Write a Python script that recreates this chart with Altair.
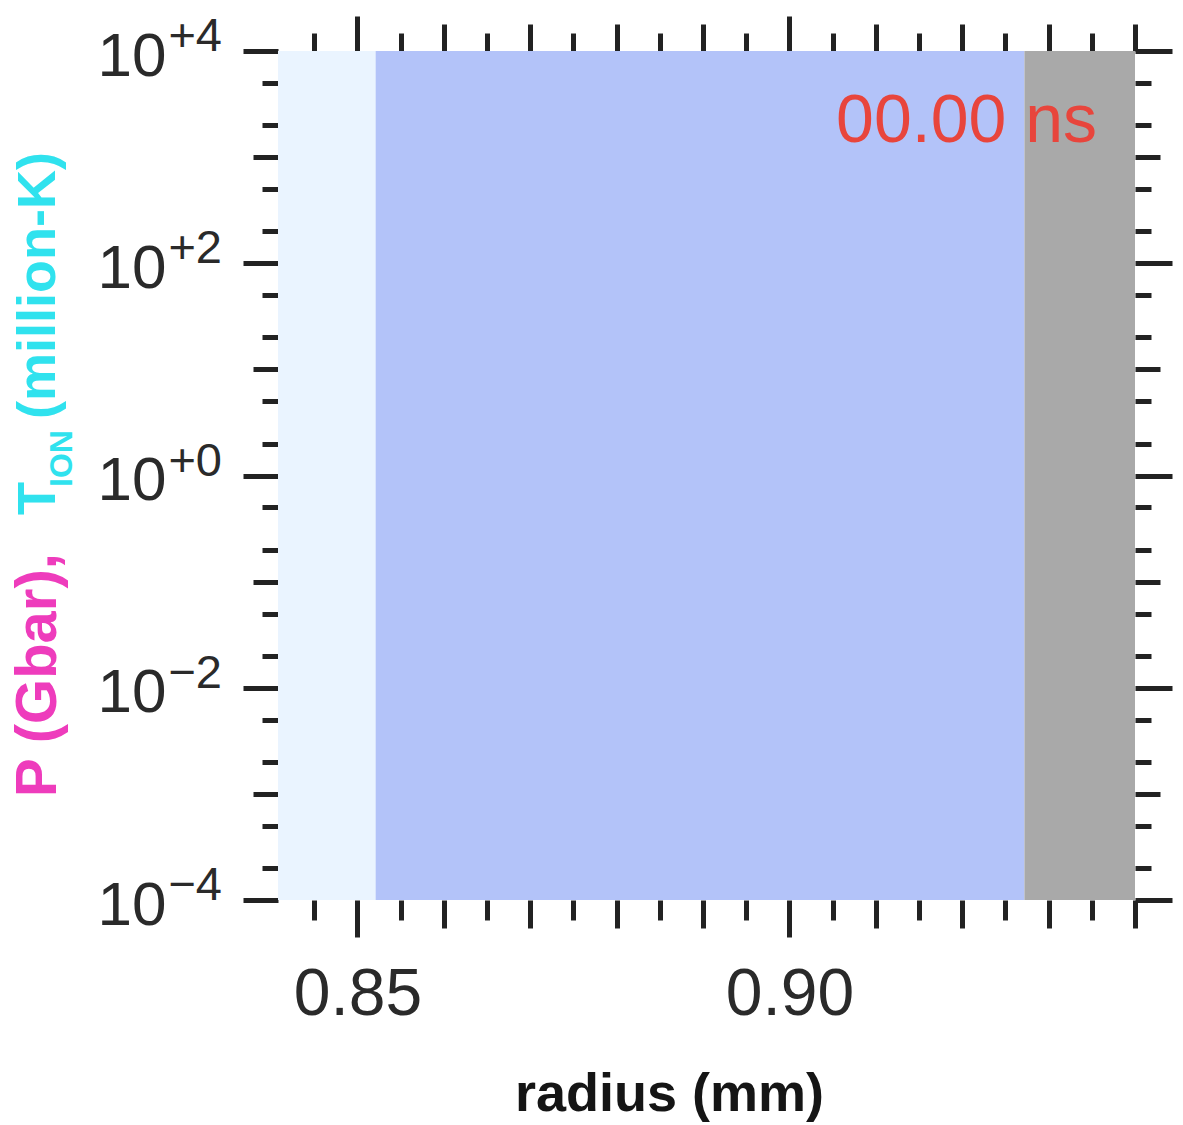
import altair as alt
import pandas as pd

# ---------------- data ----------------
region_names = ["inner", "shell", "outer"]
region_start = [0.8408, 0.8521, 0.9272]
region_end = [0.8521, 0.9272, 0.9400]
region_colors = ["#eaf4ff", "#b3c3f9", "#a9a9a9"]

x_domain = [0.8408, 0.9400]
y_domain = [1e-4, 1e4]

x_major = [0.85, 0.90]
x_medium = [0.86, 0.87, 0.88, 0.89, 0.91, 0.92, 0.93, 0.94]
x_minor = [0.845, 0.855, 0.865, 0.875, 0.885, 0.895, 0.905, 0.915, 0.925, 0.935]

y_major = [1e-4, 1e-2, 1e0, 1e2, 1e4]
y_medium = [1e-3, 1e-1, 1e1, 1e3]
y_minor = [2e-4, 5e-4, 2e-3, 5e-3, 2e-2, 5e-2, 0.2, 0.5, 2, 5, 20, 50, 200, 500, 2000, 5000]
y_exponents = ["\u22124", "\u22122", "+0", "+2", "+4"]

time_label = "00.00 ns"
x_title = "radius (mm)"
y_title_pieces = ["P (Gbar),", "T", "ION", "(million-K)"]

# ---------------- style ----------------
FONT = "Liberation Sans"
TICK_COLOR = "#222222"
LABEL_COLOR = "#2a2a2a"
MAGENTA = "#ee3cbc"
CYAN = "#30e2ee"

regions = pd.DataFrame({
    "name": region_names,
    "start": region_start,
    "end": region_end,
    "ylo": [y_domain[0]] * len(region_names),
    "yhi": [y_domain[1]] * len(region_names),
})
exps = pd.DataFrame({"value": y_major, "exp": y_exponents})

xs = alt.Scale(domain=x_domain, nice=False, zero=False)
ys = alt.Scale(type="log", domain=y_domain, nice=False)


def make_axis(orient, values, size, labels=False, **kw):
    props = dict(orient=orient, values=values, tickSize=size, tickWidth=5,
                 tickColor=TICK_COLOR, domain=False, grid=False, labels=labels,
                 offset=0, title=None)
    props.update(kw)
    return alt.Axis(**props)


bottom_major = make_axis(
    "bottom", x_major, 37, labels=True, format=".2f",
    labelFont=FONT, labelFontSize=66, labelColor=LABEL_COLOR, labelPadding=25,
    labelOverlap=False, labelFlush=False,
    title=x_title, titleFont=FONT, titleFontSize=54, titleFontWeight="bold",
    titleColor="#151515", titlePadding=40, titleX=391)
left_major = make_axis(
    "left", y_major, 35, labels=True, labelExpr="'10'",
    labelFont=FONT, labelFontSize=62, labelColor=LABEL_COLOR, labelPadding=77,
    labelAlign="right", labelBaseline="middle", labelOffset=5,
    labelOverlap=False, labelFlush=False)

rects = alt.Chart(regions).mark_rect().encode(
    x=alt.X("start:Q", scale=xs, axis=bottom_major),
    x2="end:Q",
    y=alt.Y("ylo:Q", scale=ys, axis=left_major),
    y2="yhi:Q",
    color=alt.Color("name:N", scale=alt.Scale(domain=region_names, range=region_colors),
                    legend=None),
)


def axis_layer(xaxis, yaxis):
    return alt.Chart(regions).mark_point(opacity=0, size=1).encode(
        x=alt.X("start:Q", scale=xs, axis=xaxis),
        y=alt.Y("ylo:Q", scale=ys, axis=yaxis),
    )


layers = [
    rects,
    axis_layer(make_axis("bottom", x_medium, 28), make_axis("left", y_medium, 25)),
    axis_layer(make_axis("bottom", x_minor, 20), make_axis("left", y_minor, 16)),
    axis_layer(make_axis("top", x_major, 35), make_axis("right", y_major, 37)),
    axis_layer(make_axis("top", x_medium, 27), make_axis("right", y_medium, 25)),
    axis_layer(make_axis("top", x_minor, 18), make_axis("right", y_minor, 16)),
]

# exponents of the y tick labels
exp_text = alt.Chart(exps).mark_text(
    align="right", baseline="alphabetic", font=FONT, fontSize=47, dy=0, color=LABEL_COLOR
).encode(
    x=alt.value(-56),
    y=alt.Y("value:Q", scale=ys, axis=None),
    text="exp:N",
)
layers.append(exp_text)

# time stamp
time_text = alt.Chart(pd.DataFrame({"t": [time_label]})).mark_text(
    align="right", baseline="alphabetic", font=FONT, fontSize=68, color="#e8453c"
).encode(x=alt.value(819), y=alt.value(91), text="t:N")
layers.append(time_text)

# multi-coloured rotated y title
title_layout = [
    # (piece, colour, font size, x, y)
    (y_title_pieces[0], MAGENTA, 58, -239, 746),
    (y_title_pieces[1], CYAN, 54, -239, 464),
    (y_title_pieces[2], CYAN, 32, -216, 436),
    (y_title_pieces[3], CYAN, 54, -239, 368),
]
for piece, col, fs, px, py in title_layout:
    layers.append(
        alt.Chart(pd.DataFrame({"t": [piece]})).mark_text(
            angle=270, align="left", baseline="middle", font=FONT, fontSize=fs,
            fontWeight="bold", color=col
        ).encode(x=alt.value(px), y=alt.value(py), text="t:N")
    )

chart = alt.layer(*layers).resolve_axis(
    x="independent", y="independent"
).properties(
    width=857, height=849,
    padding={"left": 270, "top": 43, "right": 40, "bottom": 224},
    autosize=alt.AutoSizeParams(type="none"),
).configure_view(strokeWidth=0)

chart.save("out.html", embed_options={"renderer": "svg", "actions": False})
